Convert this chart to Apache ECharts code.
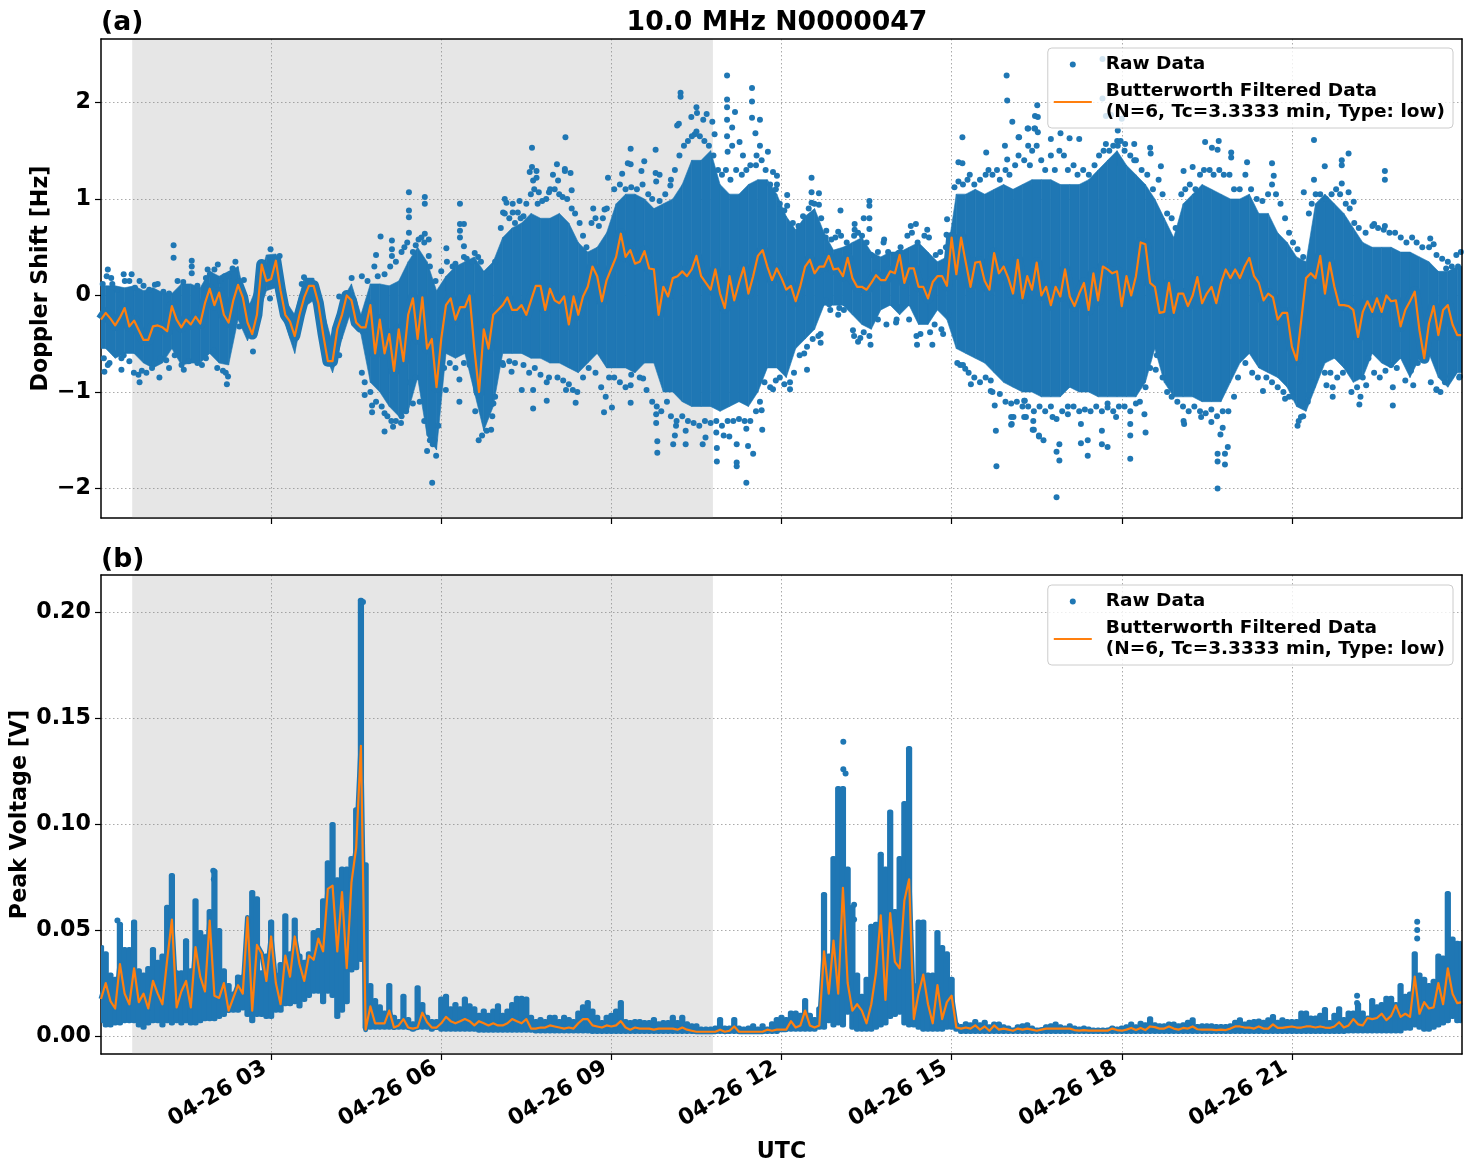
<!DOCTYPE html>
<html><head><meta charset="utf-8">
<script src="https://cdn.jsdelivr.net/npm/echarts@6/dist/echarts.min.js"></script>
<style>html,body{margin:0;padding:0;background:#fff}#c{width:1472px;height:1172px}</style>
</head><body><div id="c"></div>
<script>
const FONT='"DejaVu Sans"';
const chartTitle='10.0 MHz N0000047';
const xTicks=[3,6,9,12,15,18,21];
const xTickLabels=['04-26 03','04-26 06','04-26 09','04-26 12','04-26 15','04-26 18','04-26 21'];
const yTicksA=[-2,-1,0,1,2];
const yTicksB=[0,0.05,0.10,0.15,0.20];
const nightBand=[0.55,10.79];

// (a) filtered Doppler, one value per 5 minutes
const filteredA=[
-.25,-.18,-.24,-.31,-.23,-.13,-.32,-.26,-.36,-.46,-.46,-.32,
-.31,-.33,-.37,-.11,-.25,-.33,-.25,-.30,-.22,-.29,-.08,.07,
-.10,.03,-.20,-.28,-.05,.11,-.02,-.28,-.40,-.20,.32,.15,
.17,.36,.05,-.20,-.27,-.42,-.20,-.02,.10,.10,-.08,-.40,
-.68,-.68,-.35,-.20,0,-.05,-.28,-.33,-.33,-.10,-.60,-.25,
-.60,-.40,-.78,-.35,-.68,-.20,-.03,-.45,-.02,-.55,-.45,-.95,
-.45,-.10,-.03,-.25,-.12,-.12,0,-.55,-1.0,-.35,-.55,-.20,
-.15,-.10,-.02,-.15,-.15,-.10,-.20,-.05,.10,.10,-.15,.07,
-.05,-.08,-.01,-.30,-.01,-.20,-.01,.09,.30,.20,-.06,.16,
.28,.40,.64,.40,.47,.33,.35,.46,.28,.27,-.20,.09,
-.01,.18,.20,.25,.20,.27,.41,.20,.13,.06,.27,.02,
-.13,.20,-.05,.13,.29,.02,.20,.41,.47,.30,.16,.28,
.18,.06,.10,-.06,.10,.30,.37,.23,.30,.30,.41,.27,
.28,.20,.39,.18,.09,.09,.06,.13,.21,.16,.16,.25,
.23,.42,.13,.28,.28,.09,.09,-.03,.14,.20,.20,.10,
.60,.22,.60,.34,.09,.34,.35,.15,.06,.44,.23,.30,
.18,.02,.37,-.03,.20,.06,.34,0,.09,-.10,.09,-.01,
.27,-.01,-.11,.02,.13,-.15,.23,-.05,.30,.27,.23,.25,
-.11,.20,0,.20,.55,.53,.13,.09,-.18,-.17,.13,-.18,
.02,.02,-.11,0,.19,-.08,.02,.09,-.08,.13,.27,.18,
.27,.18,.30,.39,.20,.13,-.05,.02,-.02,-.25,-.18,-.18,
-.53,-.67,-.25,.18,.23,.18,.41,.02,.34,.09,-.1,-.1,
-.11,-.15,-.43,-.17,-.06,-.17,-.03,-.17,0,-.06,-.05,-.32,
-.15,-.06,.04,-.36,-.65,-.29,-.11,-.41,-.15,-.1,-.3,-.41,-.41];

// (a) dense part of the raw cloud, per 10 minutes
const rawHighA=[
.10,.10,.08,.10,.05,.08, .03,.02,.12,.12,.08,.25, .2,.25,.3,-.15,.1,.42, .43,-.05,-.2,.18,.18,-.15,
-.5,-.05,.12,-.2,.12,.12, .1,.15,.35,.5,.35,.05, .2,.3,.35,.4,.25,.35, .6,.7,.75,.85,.8,.8,
.85,.75,.55,.45,.5,.65, .95,1.05,1.05,1.0,.9,.95, 1.0,1.15,1.4,1.4,1.5,1.15, 1.05,1.05,1.15,1.2,1.2,1.05,
.82,.68,.82,.9,.65,.47, .5,.55,.6,.45,.4,.45, .45,.5,.55,.45,.35,.4, 1.05,1.05,1.1,1.05,1.1,1.15,
1.1,1.15,1.2,1.2,1.2,1.15, 1.15,1.15,1.2,1.3,1.4,1.5, 1.35,1.25,1.15,1.0,.8,.6, .95,1.05,1.15,1.1,1.05,1.0,
1.0,1.05,.85,.85,.65,.55, .4,.35,.95,1.05,.95,.85, .7,.55,.5,.5,.5,.45, .45,.4,.35,.25,.25,.3];
const rawLowA=[
-.55,-.65,-.60,-.60,-.70,-.75, -.70,-.55,-.72,-.7,-.7,-.6, -.7,-.72,-.25,-.47,-.25,.05, .08,-.3,-.6,-.12,-.05,-.55,
-.8,-.45,-.15,-.4,-.9,-1.0, -1.15,-1.25,-1.2,-.85,-1.45,-1.6, -.6,-.65,-.6,-1.0,-1.4,-1.15, -.6,-.6,-.6,-.65,-.65,-.7,
-.7,-.75,-.8,-.7,-.6,-.75, -.75,-.75,-.8,-.7,-.7,-1.0, -1.0,-1.1,-1.15,-1.15,-1.15,-1.2, -1.15,-1.1,-1.15,-1.0,-.75,-.75,
-.85,-.55,-.45,-.35,-.1,-.1, -.1,-.2,-.3,-.35,-.15,-.1, -.2,-.1,-.3,-.3,-.15,-.25, -.55,-.6,-.65,-.7,-.8,-.9,
-.95,-1.0,-1.0,-1.05,-1.05,-1.05, -.95,-1.0,-1.0,-1.05,-1.05,-1.05, -1.05,-1.05,-.9,-.55,-.9,-1.05, -1.05,-1.05,-1.1,-1.1,-1.1,-.9,
-.7,-.6,-.75,-.8,-.85,-.95, -1.15,-1.2,-.95,-.7,-.65,-.75, -.9,-.85,-.6,-.7,-.75,-.65, -.85,-.65,-.6,-.85,-.95,-.8];

// (a) isolated raw dots, hour then Hz
const rawDotsA=[
[1.28,.52],[1.28,.39],[1.6,.36],[1.6,.3],[1.6,.23],[2.06,.32],[.12,.27],[.18,.18],[.4,.22],[.54,.22],[.68,.15],[.95,.11],[1.1,.04],[2.37,.35],[2.32,.28],[2.52,.16],[2.18,.2],[1.88,.27],
[.06,-.79],[.15,-.7],[.36,-.77],[.36,-.65],[.68,-.9],[.94,-.7],[1.15,-.67],[1.03,-.85],[1.46,-.77],[1.78,-.72],[1.99,-.57],[2.22,-.92],[2.24,-.84],[2.68,-.58],[2.44,-.32],[2.66,-.1],[2.98,-.03],[2.99,.48],[3.15,.41],[3.58,.19],[3.54,.12],[4.42,.18],[4.2,-.01],[4.2,-.62],
[4.93,.61],[4.85,.42],[5.13,.57],[5.13,.48],[5.13,.41],[5.43,1.07],[5.43,.88],[5.43,.81],[5.43,.65],[5.71,1.02],[5.71,.95],[5.71,.64],[5.78,.58],[5.78,.41],[6.09,.49],[6.33,.95],[6.33,.74],[6.4,.74],[6.33,.67],[6.33,.6],[6.4,.51],[6.59,.44],
[4.65,-1.03],[4.78,-1.14],[4.78,-1.21],[5.0,-1.22],[5.0,-1.41],[5.15,-1.36],[5.29,-1.32],[5.5,-1.12],[5.75,-1.61],[5.84,-1.94],[5.91,-1.66],[5.85,-1.54],[6.08,-.98],[6.32,-1.1],[6.32,-.87],[6.66,-1.5],[6.88,-1.39],[6.92,-1.12],
[7.12,1.0],[7.15,.96],[7.26,.95],[7.38,.98],[7.35,.86],[7.26,.86],[7.6,1.53],[7.6,1.33],[7.56,1.28],[7.68,1.29],[7.62,1.19],[7.68,1.22],[7.97,1.25],[8.04,1.36],[8.19,1.64],[8.06,1.19],[8.18,1.29],[7.72,1.07],[7.9,1.07],[7.09,.86],
[7.09,-.72],[7.24,-.79],[7.42,-.98],[7.62,-.98],[7.62,-1.17],[7.86,-1.09],[7.86,-.9],[8.2,-.98],
[8.18,1.31],[8.28,1.27],[8.3,1.09],[8.68,.9],[8.88,.89],[8.94,1.22],[9.19,1.26],[9.34,1.52],[9.29,1.37],[9.34,1.36],[9.58,1.39],[9.53,1.29],[9.78,1.51],[9.78,1.27],[9.85,1.25],[9.79,1.18],[10.04,1.14],
[10.22,2.1],[10.22,2.06],[10.5,1.95],[10.68,1.88],[10.41,1.85],[10.51,1.89],[10.62,1.82],[10.78,1.8],[10.16,1.76],[10.19,1.78],[10.47,1.67],[10.82,1.67],[11.04,2.28],[11.04,2.03],[11.04,1.95],[11.18,1.9],[11.04,1.82],[11.13,1.74],[11.04,1.65],[11.48,2.15],[11.48,2.01],[11.48,1.84],[11.62,1.82],[11.54,1.68],[11.26,1.59],[11.13,1.55],[11.05,1.49],[11.62,1.55],[11.76,1.49],[11.56,1.45],[11.32,1.45],[11.85,1.28],[11.92,1.24],[11.92,1.15],[12.1,1.04],[12.1,.93],[12.53,1.22],[12.53,1.07],[12.66,1.06],[12.66,.94],[12.53,.96],[13.04,.88],[13.55,.98],[13.55,.93],[13.45,.8],[13.55,.8],[13.55,.69],[13.29,.74],[13.29,.68],[12.79,.67],[13,.66],[13.81,.58],[14.28,.72],[14.37,.74],[14.57,.68],[14.92,.79],[14.91,.63],
[8.37,-1.11],[8.87,-1.21],[9.01,-1.16],[9.34,-1.11],[9.34,-.93],[9.56,-.86],[9.81,-1.51],[9.81,-1.63],[9.79,-1.23],[9.79,-1.32],[10.09,-1.54],[10.14,-1.35],[10.12,-1.45],[10.31,-1.54],[10.31,-1.4],[10.61,-1.54],[10.66,-1.47],[10.85,-1.42],[10.86,-1.58],[10.86,-1.72],[11.08,-1.46],[10.98,-1.45],[11.21,-1.54],[11.21,-1.73],[11.21,-1.77],[11.38,-1.94],[11.41,-1.56],[11.5,-1.64],[11.66,-1.39],[11.65,-1.19],[11.38,-1.38],[11.85,-.97],[12.15,-.97],[12.45,-.77],[12.45,-.53],[12.69,-.49],[12.69,-.4],[12.84,-.09],[13.02,-.13],[13.26,-.36],[13.39,-.44],[13.57,-.51],[14.03,-.25],[14.39,-.51],[14.66,-.51],[14.85,-.4],
[15.15,-.72],[15.24,-.76],[15.34,-.92],[15.69,-.88],[15.69,-.99],[15.76,-1.14],[15.78,-1.4],[15.79,-1.77],[16.06,-1.33],[16.09,-1.26],[16.29,-1.09],[16.31,-1.26],[16.44,-1.3],[16.45,-1.39],[16.54,-1.46],
[15.19,1.64],[15.12,1.38],[15.19,1.37],[15.61,1.48],[15.94,1.55],[15.97,2.28],[15.98,2.02],[16.07,1.8],[15.98,1.41],[16.35,1.73],[16.19,1.64],[16.35,1.55],[16.51,1.97],[16.47,1.86],[16.47,1.73],
[16.18,1.64],[16.34,1.73],[16.46,1.73],[16.52,1.85],[16.52,1.69],[16.75,1.62],[16.92,1.68],[17.08,1.63],[17.25,1.62],[17.66,2.04],[17.66,2.45],[17.72,1.86],[17.81,1.87],[18.0,1.83],[17.93,1.71],[17.72,1.57],[17.93,1.55],[18.06,1.57],[18.22,1.57],[18.5,1.53],[18.51,1.47],[18.69,1.34],[18.22,1.4],[19.09,1.29],[19.25,1.33],[19.47,1.59],[19.59,1.53],[19.71,1.6],[19.69,1.51],[19.93,1.48],[19.93,1.43],[20.21,1.38],[20.65,1.37],[20.68,1.24],[21.39,1.61],[21.39,1.2],[21.21,1.07],[21.58,1.34],[21.88,1.4],[21.88,1.35],[22.0,1.47],[21.88,1.16],[22.0,1.07],[22.09,.97],[22.45,.74],[22.64,1.29],[22.64,1.2],[22.64,.72],[23.44,.59],[23.5,.53],[23.75,.35],[23.93,.3],
[16.05,-1.26],[16.05,-1.34],[16.28,-1.09],[16.28,-1.26],[16.43,-1.39],[16.54,-1.45],[16.62,-1.5],[16.78,-1.26],[16.85,-1.62],[16.85,-2.09],[16.9,-1.71],[16.9,-1.54],[17.05,-1.23],[17.28,-1.53],[17.28,-1.33],[17.4,-1.66],[17.4,-1.5],[17.65,-1.4],[17.65,-1.54],[17.75,-1.57],[17.75,-1.16],[17.9,-1.26],[18.15,-1.69],[18.15,-1.45],[18.15,-1.33],[18.42,-1.42],[18.4,-1.23],[18.6,-.77],[19.09,-1.3],[19.1,-1.33],[19.4,-1.26],[19.58,-1.31],[19.69,-1.64],[19.82,-1.64],[19.69,-1.72],[19.82,-1.75],[19.69,-2.0],[19.87,-1.57],[19.74,-1.44],[19.78,-1.37],[20.49,-.99],[20.88,-1.07],[21.1,-1.35],[21.16,-1.26],[21.29,-1.03],[21.61,-.93],[21.72,-1.05],[21.72,-.95],[22.19,-1.13],[22.21,-1.05],[22.31,-.93],[22.78,-1.14],[22.78,-.95],[23.14,-.93],[23.55,-.97],[23.79,-.84],[23.96,-.84]];

// (a) dots on the fringe of the dense cloud
const fringeDotsA=[
[.03,.12],[.1,.2],[.2,.12],[.28,.06],[.42,.15],[.5,.15],[.6,.08],[.75,.1],[.85,.06],[1.0,.12],[1.2,.02],[1.35,.15],[1.45,.14],[1.7,.1],[1.85,.18],[1.92,.22],[2.0,.27],[2.1,.15],[2.25,.2],[2.44,.15],
[.05,-.65],[.12,-.72],[.25,-.6],[.4,-.62],[.5,-.68],[.58,-.8],[.66,-.82],[.72,-.78],[.8,-.8],[.9,-.75],[1.05,-.65],[1.2,-.75],[1.3,-.62],[1.42,-.72],[1.55,-.68],[1.7,-.7],[1.85,-.65],[2.05,-.75],[2.15,-.78],[2.2,-.8],
[4.6,.2],[4.7,.15],[4.82,.3],[4.88,.2],[5.0,.22],[5.1,.3],[5.2,.35],[5.3,.45],[5.35,.5],[5.4,.55],[5.5,.45],[5.55,.52],[5.6,.58],[5.65,.6],[5.7,.55],[5.8,.3],[5.9,.15],[6.0,.25],[6.1,.35],[6.2,.3],[6.25,.33],[6.4,.4],[6.45,.38],[6.55,.35],[6.65,.4],[6.7,.35],[6.85,.25],[6.95,.35],
[4.6,-.8],[4.65,-.9],[4.75,-1.0],[4.85,-1.1],[4.95,-1.15],[5.05,-1.25],[5.12,-1.3],[5.2,-1.3],[5.3,-1.25],[5.38,-1.2],[5.45,-.9],[5.55,-.85],[5.62,-1.1],[5.7,-1.3],[5.8,-1.5],[5.88,-1.5],[5.95,-1.35],[6.05,-.75],[6.15,-.7],[6.25,-.75],[6.4,-.7],[6.5,-.72],[6.6,-1.2],[6.72,-1.45],[6.8,-1.4],[6.9,-1.25],[6.95,-1.05],
[7.05,.7],[7.12,.85],[7.2,.8],[7.3,.75],[7.4,.8],[7.45,.82],[7.5,.95],[7.58,1.05],[7.64,1.1],[7.7,.95],[7.78,.98],[7.85,1.0],[7.92,1.1],[8.0,1.1],[8.08,1.05],[8.14,1.02],[8.22,1.0],[8.3,.9],[8.36,.85],[8.44,.75],[8.5,.62],[8.56,.5],[8.65,.75],[8.72,.8],[8.78,.72],[8.85,.8],[8.92,.9],
[7.08,-.7],[7.2,-.68],[7.3,-.7],[7.45,-.72],[7.55,-.8],[7.65,-.75],[7.75,-.82],[7.9,-.85],[8.05,-.85],[8.15,-.88],[8.25,-.92],[8.32,-.98],[8.4,-1.0],[8.5,-.85],[8.6,-.75],[8.72,-.8],[8.82,-.95],[8.9,-1.05],[8.96,-.85],
[9.05,1.1],[9.15,1.15],[9.25,1.1],[9.35,1.12],[9.45,1.1],[9.55,1.15],[9.65,1.05],[9.72,1.0],[9.85,.98],[9.95,1.05],[10.05,1.2],[10.12,1.3],[10.2,1.45],[10.28,1.55],[10.35,1.6],[10.42,1.65],[10.5,1.7],[10.56,1.65],[10.64,1.6],[10.72,1.55],[10.8,1.45],[10.88,1.3],[10.95,1.25],[11.02,1.3],[11.1,1.2],[11.2,1.3],[11.3,1.25],[11.38,1.3],[11.45,1.35],[11.55,1.35],[11.65,1.4],[11.72,1.3],[11.8,1.15],[11.9,1.1],[11.97,.95],
[9.05,-.85],[9.15,-.9],[9.25,-.95],[9.35,-.82],[9.5,-.85],[9.62,-.98],[9.72,-1.1],[9.8,-1.15],[9.88,-1.2],[9.98,-1.1],[10.05,-1.25],[10.15,-1.3],[10.25,-1.25],[10.35,-1.3],[10.45,-1.32],[10.55,-1.35],[10.65,-1.3],[10.75,-1.32],[10.85,-1.3],[10.95,-1.35],[11.05,-1.3],[11.15,-1.3],[11.25,-1.28],[11.35,-1.3],[11.45,-1.3],[11.55,-1.2],[11.62,-1.1],[11.7,-.9],[11.8,-.95],[11.9,-.88],[11.97,-.85],
[12.05,.88],[12.2,.75],[12.3,.72],[12.38,.82],[12.48,.9],[12.58,.95],[12.7,.8],[12.78,.6],[12.88,.58],[12.95,.6],[13.05,.62],[13.15,.55],[13.28,.62],[13.35,.65],[13.42,.62],[13.5,.55],[13.58,.42],[13.7,.45],[13.8,.55],[13.88,.45],[14.0,.42],[14.1,.5],[14.22,.62],[14.3,.65],[14.4,.55],[14.52,.62],[14.6,.6],[14.72,.42],[14.8,.45],[14.9,.5],[14.95,.6],
[12.05,-.92],[12.15,-.9],[12.22,-.8],[12.32,-.62],[12.4,-.6],[12.55,-.45],[12.65,-.42],[12.78,-.05],[12.86,-.15],[13.0,-.2],[13.1,-.15],[13.28,-.42],[13.35,-.48],[13.45,-.38],[13.55,-.42],[13.7,-.25],[13.85,-.3],[14.02,-.28],[14.1,-.12],[14.25,-.25],[14.38,-.42],[14.45,-.4],[14.62,-.38],[14.7,-.3],[14.82,-.35],[14.95,-.2],
[15.05,1.12],[15.12,1.18],[15.2,1.15],[15.28,1.2],[15.32,1.25],[15.4,1.15],[15.5,1.2],[15.6,1.25],[15.65,1.3],[15.72,1.25],[15.8,1.3],[15.85,1.2],[15.95,1.3],[16.02,1.25],[16.12,1.35],[16.18,1.45],[16.28,1.4],[16.38,1.35],[16.42,1.5],[16.5,1.55],[16.58,1.4],[16.65,1.3],[16.75,1.45],[16.82,1.3],[16.9,1.5],[16.98,1.45],[17.05,1.3],[17.15,1.35],[17.22,1.25],[17.32,1.3],[17.42,1.25],[17.52,1.35],[17.6,1.45],[17.68,1.5],[17.78,1.5],[17.85,1.55],[17.92,1.6],[17.98,1.6],
[15.1,-.7],[15.2,-.72],[15.3,-.8],[15.4,-.85],[15.5,-.9],[15.6,-.85],[15.72,-1.0],[15.85,-1.02],[15.95,-1.1],[16.05,-1.12],[16.15,-1.1],[16.25,-1.15],[16.35,-1.15],[16.45,-1.2],[16.55,-1.15],[16.65,-1.2],[16.75,-1.15],[16.85,-1.28],[16.95,-1.2],[17.05,-1.15],[17.15,-1.15],[17.25,-1.2],[17.35,-1.18],[17.45,-1.2],[17.55,-1.15],[17.65,-1.2],[17.75,-1.12],[17.85,-1.2],[17.95,-1.15],
[18.05,1.5],[18.15,1.45],[18.25,1.4],[18.35,1.3],[18.45,1.25],[18.55,1.1],[18.65,1.2],[18.72,1.05],[18.8,.85],[18.88,.8],[18.95,.7],[19.05,1.05],[19.12,1.1],[19.2,1.15],[19.3,1.1],[19.38,1.25],[19.45,1.3],[19.55,1.3],[19.62,1.25],[19.72,1.3],[19.8,1.25],[19.9,1.25],[19.98,1.1],[20.08,1.1],[20.18,1.25],[20.28,1.1],[20.38,1.0],[20.48,.98],[20.58,1.05],[20.65,1.15],[20.72,1.05],[20.8,.95],[20.88,.8],[20.95,.65],
[18.05,-1.15],[18.15,-1.2],[18.25,-1.12],[18.32,-1.1],[18.42,-.95],[18.5,-.75],[18.62,-.62],[18.72,-.85],[18.8,-1.0],[18.88,-1.05],[18.98,-1.1],[19.08,-1.15],[19.18,-1.2],[19.28,-1.15],[19.38,-1.2],[19.48,-1.22],[19.58,-1.18],[19.68,-1.25],[19.78,-1.2],[19.88,-1.2],[19.98,-1.05],[20.05,-.85],[20.18,-.7],[20.3,-.8],[20.4,-.85],[20.55,-.85],[20.65,-.9],[20.75,-.95],[20.85,-1.0],[20.95,-1.05],
[21.02,.55],[21.1,.48],[21.2,.4],[21.3,.85],[21.35,.95],[21.42,1.05],[21.5,1.05],[21.6,1.0],[21.7,1.05],[21.78,1.1],[21.85,1.05],[21.95,.95],[22.02,.9],[22.1,.75],[22.18,.7],[22.3,.65],[22.42,.72],[22.52,.7],[22.62,.68],[22.72,.65],[22.82,.65],[22.92,.6],[23.02,.55],[23.12,.6],[23.2,.55],[23.3,.5],[23.42,.5],[23.55,.42],[23.65,.38],[23.72,.28],[23.82,.3],[23.9,.42],[23.98,.45],
[21.02,-1.05],[21.12,-1.3],[21.2,-1.25],[21.28,-1.1],[21.38,-.9],[21.48,-.75],[21.58,-.8],[21.68,-.8],[21.8,-.85],[21.9,-.8],[22.05,-1.0],[22.15,-.95],[22.25,-.85],[22.35,-.65],[22.45,-.8],[22.55,-.85],[22.65,-.78],[22.75,-.72],[22.85,-.75],[23.0,-.88],[23.1,-.78],[23.22,-.7],[23.32,-.65],[23.45,-.9],[23.55,-.98],[23.62,-1.0],[23.7,-.9],[23.85,-.8],[23.95,-.85]];

// (b) filtered voltage, one value per 5 minutes
const filteredB=[
.0175,.025,.0165,.013,.034,.02,.015,.032,.016,.02,.013,.026,
.02,.015,.036,.055,.0135,.021,.026,.0135,.042,.028,.021,.0545,
.019,.018,.025,.012,.018,.024,.02,.056,.012,.043,.039,.026,
.047,.025,.015,.038,.028,.047,.034,.026,.038,.036,.046,.04,
.0695,.071,.04,.068,.032,.0725,.089,.137,.003,.014,.006,.006,
.006,.012,.004,.005,.008,.004,.0035,.004,.011,.0065,.004,.004,
.006,.009,.007,.006,.007,.008,.007,.005,.007,.006,.005,.006,
.005,.005,.006,.008,.007,.006,.008,.0035,.0035,.004,.004,.005,
.0045,.004,.0035,.004,.0035,.006,.008,.008,.005,.0045,.004,.005,
.0045,.005,.007,.004,.003,.004,.0035,.0035,.0035,.003,.0035,.0035,
.0035,.0035,.003,.004,.003,.0025,.002,.002,.002,.002,.002,.003,
.002,.0025,.0045,.002,.002,.002,.002,.002,.002,.003,.0025,.003,
.003,.003,.007,.004,.005,.012,.005,.004,.005,.04,.02,.045,
.02,.07,.025,.012,.015,.012,.006,.015,.03,.057,.017,.058,
.035,.032,.064,.074,.008,.02,.029,.015,.006,.024,.008,.016,
.019,.004,.0035,.004,.0035,.005,.003,.0045,.0025,.005,.003,.0035,
.003,.0025,.0035,.003,.0035,.003,.0025,.003,.0035,.0035,.0035,.0035,
.0035,.0035,.0028,.0025,.0028,.0025,.0025,.0025,.0025,.0025,.0035,.0028,
.0025,.003,.0038,.0028,.0038,.0028,.0045,.0042,.0035,.0035,.0045,.0035,
.003,.0038,.0035,.0045,.0032,.003,.003,.003,.0028,.003,.0028,.0035,
.0045,.0045,.004,.004,.0035,.0045,.0035,.0035,.0055,.0038,.0038,.0042,
.0045,.004,.004,.0045,.0045,.004,.0045,.004,.0038,.0045,.0065,.004,
.005,.008,.0055,.005,.0085,.008,.0085,.0105,.0075,.0095,.0145,.009,
.0105,.009,.028,.0105,.016,.013,.0135,.025,.015,.032,.02,.0155,.016];

// (b) raw cloud range, per 5 minutes
const rawHighB=[
.043,.04,.03,.028,.054,.042,.042,.055,.032,.03,.033,.042,
.036,.039,.062,.077,.031,.031,.046,.032,.065,.05,.048,.06,
.079,.051,.032,.025,.021,.029,.029,.047,.069,.066,.031,.039,
.055,.03,.035,.058,.04,.056,.039,.036,.04,.05,.051,.065,
.083,.101,.075,.08,.08,.085,.108,.207,.082,.025,.018,.015,
.012,.025,.01,.008,.02,.009,.007,.024,.016,.01,.008,.008,
.0186,.02,.014,.016,.014,.0186,.0155,.014,.011,.013,.011,.013,
.0155,.011,.013,.016,.019,.019,.0186,.01,.008,.009,.008,.01,
.01,.008,.01,.009,.008,.012,.015,.017,.013,.01,.0075,.01,
.011,.013,.017,.008,.0075,.008,.008,.0075,.0075,.009,.007,.0075,
.0075,.01,.0075,.01,.007,.006,.006,.0045,.0045,.0045,.005,.009,
.005,.005,.009,.005,.0045,.005,.006,.0045,.006,.0045,.007,.009,
.010,.009,.012,.012,.011,.018,.011,.009,.014,.068,.039,.085,
.118,.118,.08,.062,.03,.02,.028,.053,.054,.087,.08,.107,
.06,.085,.111,.137,.025,.055,.055,.03,.03,.05,.043,.04,
.028,.0065,.0057,.007,.0065,.008,.0065,.0077,.0055,.0068,.0068,.0055,
.005,.004,.0055,.006,.0065,.005,.004,.004,.0055,.006,.0068,.0055,
.005,.006,.005,.0045,.005,.0045,.004,.004,.004,.004,.005,.0045,
.005,.0055,.0068,.0055,.0072,.0065,.0093,.0065,.006,.006,.0068,.0068,
.006,.0065,.0077,.0088,.0057,.006,.006,.006,.0057,.0057,.0057,.006,
.0077,.0088,.0068,.0077,.008,.0083,.0077,.0088,.0104,.0077,.0088,.008,
.008,.008,.012,.012,.0097,.0097,.011,.0137,.0075,.011,.014,.009,
.012,.012,.016,.012,.009,.018,.015,.016,.019,.019,.016,.025,
.02,.021,.04,.03,.028,.025,.027,.039,.038,.0685,.047,.045,.045];
const rawLowB=[
.006,.004,.004,.005,.005,.006,.006,.006,.004,.003,.005,.006,
.006,.004,.006,.005,.006,.005,.006,.005,.005,.006,.007,.007,
.007,.008,.009,.011,.011,.011,.012,.009,.006,.009,.009,.008,
.008,.011,.011,.014,.014,.015,.013,.016,.018,.02,.02,.015,
.02,.018,.008,.011,.015,.03,.031,.035,.003,.003,.003,.003,
.003,.003,.003,.003,.003,.003,.002,.003,.003,.003,.002,.003,
.002,.002,.002,.002,.002,.002,.002,.002,.0015,.0015,.0015,.0015,
.0015,.0015,.0015,.0015,.0015,.0015,.0015,.0015,.0012,.0012,.0012,.0012,
.0012,.0012,.0012,.0012,.0012,.0012,.0012,.0012,.001,.001,.001,.001,
.001,.001,.001,.001,.001,.001,.001,.001,.001,.001,.001,.001,
.001,.001,.001,.001,.001,.001,.001,.001,.001,.001,.001,.001,
.001,.001,.001,.001,.001,.001,.001,.001,.001,.001,.001,.001,
.002,.002,.002,.002,.002,.002,.002,.002,.003,.003,.006,.004,
.005,.004,.01,.003,.002,.002,.002,.002,.003,.004,.005,.008,
.009,.01,.005,.004,.004,.003,.002,.002,.002,.002,.002,.003,
.003,.002,.001,.001,.001,.001,.001,.001,.001,.001,.001,.001,
.001,.001,.001,.001,.001,.001,.001,.001,.001,.001,.001,.001,
.001,.001,.001,.001,.001,.001,.001,.001,.001,.001,.001,.001,
.001,.001,.001,.001,.001,.001,.001,.001,.001,.001,.001,.001,
.001,.001,.001,.001,.001,.001,.001,.001,.001,.001,.001,.001,
.001,.001,.001,.001,.001,.001,.001,.001,.001,.001,.001,.001,
.001,.001,.001,.001,.001,.001,.001,.001,.001,.001,.001,.001,
.0012,.0012,.0012,.0012,.0012,.0012,.0012,.0012,.0012,.0012,.0012,.0012,
.0025,.0025,.004,.003,.002,.002,.003,.004,.005,.006,.008,.006,.006];

// (b) isolated raw dots
const rawDotsB=[[.29,.0545],[1.5,.0447],[1.98,.078],[1.99,.074],[13.09,.139],[13.09,.126],[13.13,.124],[13.28,.062],[13.28,.055],[22.15,.019],[22.15,.0156],[23.21,.054],[23.21,.05],[23.21,.046],[4.62,.205]];

const BLUE='#1f77b4',ORANGE='#ff7f0e';
const nameRaw='Raw Data';
const nameFilt='Butterworth Filtered Data\n(N=6, Tc=3.3333 min, Type: low)';
const G=[{top:39,h:479},{top:575,h:479}];
const X0=0,X1=24;
const yRange=[[-2.305,2.657],[-0.0085,0.2177]];
const tickFont={fontFamily:FONT,fontWeight:'bold',fontSize:22.2,color:'#000'};
const nameFont={fontFamily:FONT,fontWeight:'bold',fontSize:22.2,color:'#000'};
const gridLine={show:true,lineStyle:{color:'#aaaaaa',width:1,type:[1.5,2.5]}};

// panel (a): range polygon between neighbouring 10-minute readings
function envelopeRows(hi,lo,stepH){
  const t=hi.map((_,i)=>i*stepH+stepH/2);
  const ts=[X0,...t,X1],hs=[hi[0],...hi,hi[hi.length-1]],ls=[lo[0],...lo,lo[lo.length-1]];
  const rows=[];
  for(let i=0;i<ts.length-1;i++)rows.push([ts[i],ls[i],hs[i],ts[i+1],ls[i+1],hs[i+1]]);
  return rows;
}
function envelopeItem(params,api){
  const p=[api.coord([api.value(0),api.value(2)]),api.coord([api.value(3),api.value(5)]),
           api.coord([api.value(3),api.value(4)]),api.coord([api.value(0),api.value(1)])];
  return {type:'polygon',shape:{points:p},style:{fill:BLUE,stroke:BLUE,lineWidth:.6}};
}
// panel (b): one range bar per 5-minute reading
function barRows(hi,lo,stepH){return hi.map((h,i)=>[i*stepH,lo[i],h]);}
function barItem(stepH){return function(params,api){
  const t=api.value(0),a=api.coord([t,api.value(2)]),b=api.coord([t,api.value(1)]);
  const w=api.size([stepH,0])[0]+1.5;
  const cs=params.coordSys;
  const shape=echarts.graphic.clipRectByRect({x:a[0]-w/2,y:a[1],width:w,height:Math.max(b[1]-a[1],1)},{x:cs.x,y:cs.y,width:cs.width,height:cs.height});
  if(!shape)return null;
  shape.r=2.5;
  return {type:'rect',shape:shape,style:{fill:BLUE}};
};}
function hours(arr,stepH){return arr.map((v,i)=>[i*stepH,v]);}

function panel(i,rows,item,dots,filt,haloWidth){
  return [
   {type:'line',name:'shade'+i,xAxisIndex:i,yAxisIndex:i,data:[],z:1,silent:true,
    markArea:{silent:true,itemStyle:{color:'rgba(128,128,128,0.2)'},label:{show:false},
      data:[[{xAxis:nightBand[0]},{xAxis:nightBand[1]}]]}},
   {type:'custom',name:nameRaw,xAxisIndex:i,yAxisIndex:i,data:rows,
    encode:{x:0,y:[1,2]},renderItem:item,z:2,silent:true,itemStyle:{color:BLUE},clip:true},
   {type:'line',name:nameRaw,xAxisIndex:i,yAxisIndex:i,data:hours(filt,5/60),showSymbol:false,symbol:'none',
    lineStyle:{color:BLUE,width:haloWidth,join:'round',cap:'butt'},itemStyle:{color:BLUE},z:2,silent:true,clip:true},
   {type:'scatter',name:nameRaw,xAxisIndex:i,yAxisIndex:i,data:dots,symbolSize:6,itemStyle:{color:BLUE,opacity:1},z:2,silent:true,clip:true},
   {type:'line',name:nameFilt,xAxisIndex:i,yAxisIndex:i,data:hours(filt,5/60),showSymbol:false,symbol:'none',
    lineStyle:{color:ORANGE,width:2.2,join:'round'},itemStyle:{color:ORANGE},z:3,silent:true,clip:true}
  ];
}
function legend(i){return {
  orient:'vertical',right:19,top:[48,585][i],padding:[6,8,5,6],itemGap:6,
  backgroundColor:'rgba(255,255,255,0.8)',borderColor:'#cccccc',borderWidth:1,borderRadius:4,
  itemWidth:38,itemHeight:6,selectedMode:false,z:20,
  textStyle:{fontFamily:FONT,fontWeight:'bold',fontSize:18.5,lineHeight:21,color:'#000',padding:[0,0,0,9]},
  data:[{name:nameRaw,icon:'circle',itemStyle:{color:BLUE}},
        {name:nameFilt,icon:'path://M0 0H38V2H0Z',itemStyle:{color:ORANGE}}]
};}

const xTickText=v=>{const k=xTicks.indexOf(v);return k<0?'':xTickLabels[k];};
const titleFont={fontFamily:FONT,fontWeight:'bold',fontSize:26.67,color:'#000'};
const option={
 animation:false,backgroundColor:'#fff',
 title:[
  {text:chartTitle,left:772,top:5,textAlign:'center',textStyle:titleFont},
  {text:'(a)',left:96,top:5,textStyle:titleFont},
  {text:'(b)',left:96,top:542,textStyle:titleFont}
 ],
 legend:[legend(0),legend(1)],
 grid:G.map(g=>({left:101,width:1361,top:g.top,height:g.h,show:false,containLabel:false,outerBoundsMode:'none'})),
 xAxis:[
  ...[0,1].map(i=>({type:'value',gridIndex:i,min:X0,max:X1,position:'bottom',
    name:i?'UTC':'',nameLocation:'middle',nameGap:87,nameMoveOverlap:false,nameTextStyle:nameFont,
    axisLine:{show:true,onZero:false,lineStyle:{color:'#000',width:1.5}},
    axisTick:{show:true,length:6,customValues:xTicks,lineStyle:{color:'#000',width:1.2}},
    axisLabel:i?{show:true,customValues:xTicks,rotate:30,margin:9,padding:[0,7,0,0],formatter:xTickText,...tickFont}:{show:false},
    splitLine:gridLine})),
  ...[0,1].map(i=>({type:'value',gridIndex:i,min:X0,max:X1,position:'top',z:5,
    axisLine:{show:true,onZero:false,lineStyle:{color:'#000',width:1.5}},axisTick:{show:false},axisLabel:{show:false},splitLine:{show:false}}))
 ],
 yAxis:[
  ...[0,1].map(i=>({type:'value',gridIndex:i,min:yRange[i][0],max:yRange[i][1],position:'left',
    name:i?'Peak Voltage [V]':'Doppler Shift [Hz]',nameLocation:'middle',nameRotate:90,nameGap:i?70:49,nameMoveOverlap:false,
    nameTextStyle:nameFont,
    axisLine:{show:true,onZero:false,lineStyle:{color:'#000',width:1.5}},
    axisTick:{show:true,length:6,customValues:i?yTicksB:yTicksA,lineStyle:{color:'#000',width:1.2}},
    axisLabel:{show:true,customValues:i?yTicksB:yTicksA,margin:10,padding:[8,0,0,0],...tickFont,
      formatter:v=>i?Number(v).toFixed(2):String(Math.round(v)).replace('-','\u2212')},
    splitLine:gridLine})),
  ...[0,1].map(i=>({type:'value',gridIndex:i,min:yRange[i][0],max:yRange[i][1],position:'right',z:5,
    axisLine:{show:true,onZero:false,lineStyle:{color:'#000',width:1.5}},axisTick:{show:false},axisLabel:{show:false},splitLine:{show:false}}))
 ],
 series:[
  ...panel(0,envelopeRows(rawHighA,rawLowA,10/60),envelopeItem,rawDotsA.concat(fringeDotsA),filteredA,11),
  ...panel(1,barRows(rawHighB,rawLowB,5/60),barItem(5/60),rawDotsB,filteredB,5)
 ]
};
echarts.init(document.getElementById('c'),null,{renderer:'canvas'}).setOption(option);
</script></body></html>
